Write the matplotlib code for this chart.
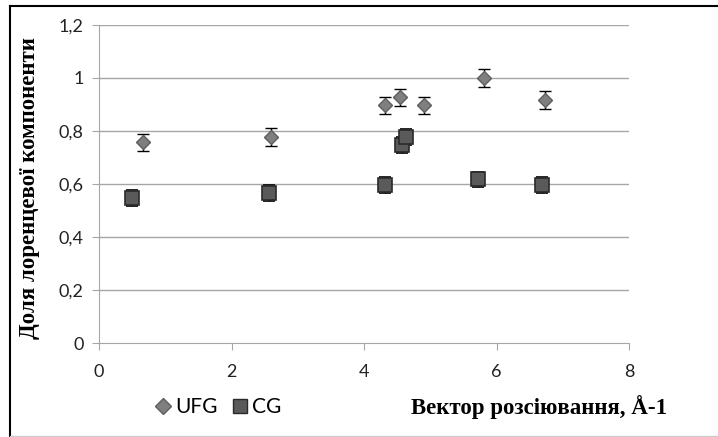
import matplotlib.pyplot as plt
from matplotlib.lines import Line2D

# Data
ufg_x = [0.66, 2.6, 4.32, 4.54, 4.9, 5.81, 6.73]
ufg_y = [0.757, 0.778, 0.897, 0.927, 0.897, 1.0, 0.917]
ufg_err = [0.033, 0.033, 0.033, 0.033, 0.033, 0.033, 0.033]

cg_x = [0.5, 2.56, 4.32, 4.57, 4.63, 5.72, 6.69]
cg_y = [0.547, 0.567, 0.597, 0.747, 0.777, 0.617, 0.597]
cg_err = [0.03, 0.03, 0.03, 0.03, 0.03, 0.03, 0.03]

x_ticks = [0, 2, 4, 6, 8]
y_ticks = [0, 0.2, 0.4, 0.6, 0.8, 1.0, 1.2]
y_labels = ["0", "0,2", "0,4", "0,6", "0,8", "1", "1,2"]

plt.rcParams['font.family'] = ['Lato', 'DejaVu Sans']

fig = plt.figure(figsize=(7.18, 4.37), dpi=100)
ax = fig.add_axes([99 / 718, 1 - 343 / 437, 530 / 718, 318 / 437])

grid_c = "#a6a6a6"
for yv in y_ticks[1:]:
    ax.axhline(yv, color=grid_c, lw=1, zorder=0)

ax.errorbar(ufg_x, ufg_y, yerr=ufg_err, fmt="D", ms=7.5, mfc="#7f7f7f", mec="#5f5f5f",
            mew=1, ecolor="black", elinewidth=1, capsize=4, capthick=1, zorder=3)
ax.errorbar(cg_x, cg_y, yerr=cg_err, fmt="s", ms=9.5, mfc="#5a5a5a", mec="#2a2a2a",
            mew=1.2, ecolor="black", elinewidth=1, capsize=4, capthick=1, zorder=3)

ax.set_xlim(0, 8)
ax.set_ylim(0, 1.2)
ax.set_xticks(x_ticks)
ax.set_yticks(y_ticks)
ax.set_yticklabels(y_labels)
for s in ["top", "right"]:
    ax.spines[s].set_visible(False)
for s in ["left", "bottom"]:
    ax.spines[s].set_color(grid_c)
ax.tick_params(axis="x", direction="out", length=5, labelsize=13, pad=10,
               colors=grid_c, labelcolor="#222222")
ax.tick_params(axis="y", direction="out", length=5, labelsize=13, pad=6,
               colors=grid_c, labelcolor="#222222")

fig.text(30 / 718, 1 - 188 / 437, "Доля лоренцевої компоненти", rotation=90,
         ha="center", va="center", family="Liberation Serif", fontweight="bold", fontsize=16.5)
fig.text(539 / 718, 1 - 407 / 437, "Вектор розсіювання, Å-1",
         ha="center", va="center", family="Liberation Serif", fontweight="bold", fontsize=16.5)

handles = [
    Line2D([], [], ls="none", marker="D", ms=8, mfc="#7f7f7f", mec="#5f5f5f"),
    Line2D([], [], ls="none", marker="s", ms=10, mfc="#5a5a5a", mec="#2a2a2a"),
]
fig.legend(handles, ["UFG", "CG"], loc="center", bbox_to_anchor=(217 / 718, 1 - 407 / 437),
           ncol=2, frameon=False, fontsize=15, handletextpad=0.05, columnspacing=0.6,
           handlelength=1.0)

# outer chart frame
fig.add_artist(Line2D([10 / 718, 1], [1 - 6 / 437, 1 - 6 / 437], color="black", lw=1.5))
fig.add_artist(Line2D([10 / 718, 10 / 718], [0, 1 - 6 / 437], color="black", lw=1.5))
fig.add_artist(Line2D([10 / 718, 1], [1 / 437, 1 / 437], color="#cccccc", lw=1))

fig.savefig("out.png", dpi=100)
